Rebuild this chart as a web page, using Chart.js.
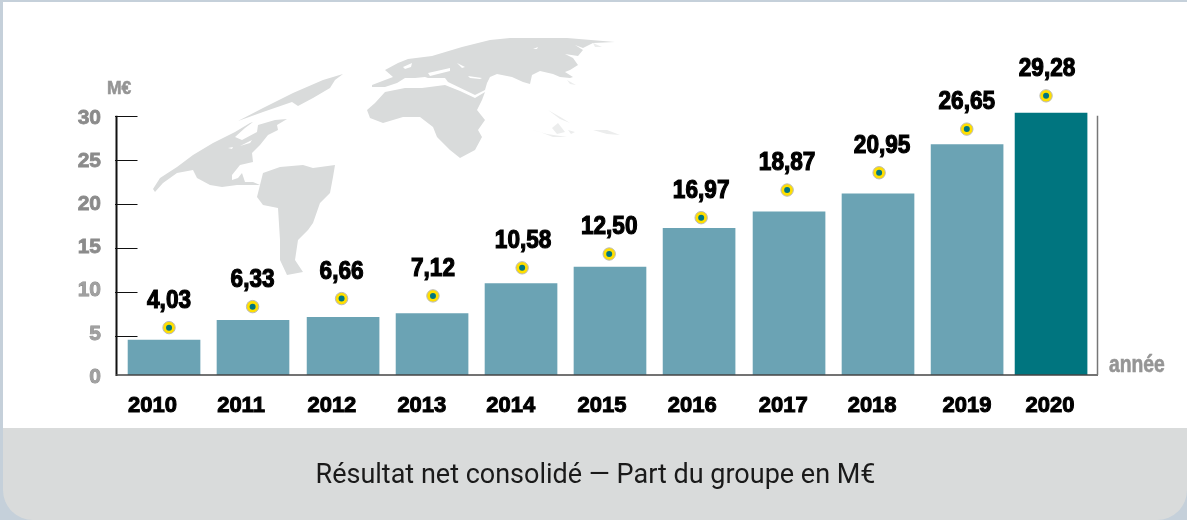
<!DOCTYPE html>
<html lang="fr">
<head>
<meta charset="utf-8">
<title>Résultat net consolidé</title>
<style>
html,body{margin:0;padding:0;width:1187px;height:520px;overflow:hidden;background:#c5d0da;}
#panel{position:absolute;left:3px;top:2px;width:1184px;height:426px;background:#fff;}
#foot{position:absolute;left:3px;top:428px;width:1184px;height:92px;background:#d9dbdb;border-radius:0 0 30px 30px;}
canvas{position:absolute;left:0;top:0;}
</style>
<script src="https://cdn.jsdelivr.net/npm/chart.js@4"></script>
</head>
<body>
<div id="panel"></div>
<div id="foot"></div>
<canvas id="c" width="1187" height="520"></canvas>
<script>
// ---- Data ----
const years = ['2010','2011','2012','2013','2014','2015','2016','2017','2018','2019','2020'];
// printed value of each year
const netResult = [4.03,6.33,6.66,7.12,10.58,12.50,16.97,18.87,20.95,26.65,29.28];
// bar height as drawn in the reference (its 2020 bar stands taller than its printed value)
const barHeights = [4.03,6.33,6.66,7.12,10.58,12.50,16.97,18.87,20.95,26.65,30.3];
// height of each yellow dot on the value axis
const dotHeights = [5.48,7.91,8.84,9.15,12.4,14.0,18.2,21.4,23.4,28.45,32.3];
const yTickValues = [0,5,10,15,20,25,30];

// ---- Layout nudges: the reference's columns are not evenly spaced ----
const barShift   = [3.4,3.1,3.9,3.6,3.3,3.0,2.8,3.5,3.2,3.0,-2.3];
const dotShift   = [8.4,2.7,2.4,4.5,4.4,2.2,4.9,1.6,4.3,2.7,-7.3];
const tickShift  = [-8.2,-8.9,-7.3,-6.6,-6.9,-5.1,-4.1,-2.4,-2.7,3,-3.3];
const valueShift = [0,0,0,0,1,0,0,0,3,0,1];

const BAR = '#6ba3b4', BAR_LAST = '#00757f', GREY = '#959595';
const SANS = '"Liberation Sans", Arial, sans-serif';

const continents = [
  [[153,189],[160,178],[177,167],[193,155],[213,143],[235,132],[250,123],[253,122],[245,128],[235,137],[242,140],[257,132],[258,125],[275,120],[287,119],[277,125],[278,130],[268,135],[260,145],[252,153],[253,162],[240,165],[232,175],[232,180],[238,178],[242,173],[245,182],[253,182],[260,185],[250,185],[237,185],[222,187],[210,185],[197,178],[193,170],[177,173],[163,183],[155,192]],
  [[238,121],[263,108],[293,93],[323,80],[343,74],[335,80],[330,88],[313,98],[298,106],[292,102],[263,112]],
  [[257,197],[263,173],[280,167],[303,165],[313,168],[335,165],[333,177],[330,193],[320,203],[313,223],[308,230],[298,240],[295,260],[303,272],[287,275],[280,260],[280,240],[278,208],[263,205]],
  [[367,110],[375,103],[385,92],[405,88],[422,88],[445,85],[460,91],[475,98],[485,92],[482,100],[477,110],[485,120],[478,130],[482,137],[475,150],[460,158],[450,150],[437,137],[433,127],[420,117],[403,117],[383,123],[370,118]],
  [[372,85],[385,80],[393,77],[385,70],[398,63],[408,59],[432,56],[462,47],[490,40],[510,38],[567,38],[615,42],[593,43],[583,48],[575,45],[583,50],[578,56],[565,54],[573,58],[578,65],[570,70],[565,72],[573,77],[570,78],[560,77],[553,74],[540,71],[532,75],[530,84],[523,82],[512,77],[497,74],[490,77],[487,83],[485,90],[475,95],[448,82],[445,78],[428,78],[425,77],[415,78],[405,78],[397,83],[385,87],[372,87]]
];
const islands = [
  [[525,128],[540,132],[553,137],[567,137],[547,134]],
  [[552,128],[558,123],[565,132],[557,134]],
  [[593,130],[607,130],[620,135],[607,134]],
  [[568,130],[575,132],[571,134]],
  [[548,110],[562,118],[570,123],[560,119]],
  [[567,80],[576,85],[570,84]],
  [[593,43],[602,47],[595,47]]
];
const seas = [
  [[428,73],[450,68],[450,71],[430,76]],
  [[457,63],[465,67],[462,68]],
  [[403,67],[412,63],[411,67],[405,69]],
  [[468,76],[482,78],[480,79],[470,78]],
  [[533,49],[538,47],[537,49]],
  [[240,146],[252,140],[250,143]],
  [[228,148],[233,147],[232,149]]
];

// condensed heavy lettering: no condensed face is installed, so squeeze horizontally
function squeezed(c,text,x,y,sx){
  c.save(); c.translate(x,y); c.scale(sx,1);
  c.fillText(text,0,0); c.strokeText(text,0,0);
  c.restore();
}

const artwork = {
  id:'artwork',
  beforeDatasetsDraw(chart){
    const c = chart.ctx;
    const fill = (shapes,color)=>{
      c.fillStyle = color;
      shapes.forEach(s=>{c.beginPath();s.forEach((p,i)=>i?c.lineTo(p[0],p[1]):c.moveTo(p[0],p[1]));c.closePath();c.fill();});
    };
    c.save();
    fill(continents,'#d9dbdb');
    fill(islands,'#eceded');
    fill(seas,'#ffffff');
    c.restore();
  },
  afterDatasetsDraw(chart){
    const c = chart.ctx, y = chart.scales.y, y2 = chart.scales.yMarks, a = chart.chartArea;
    const top = y.getPixelForValue(30), base = y.getPixelForValue(0);
    c.save();
    // axis frame
    c.strokeStyle = '#111'; c.lineWidth = 2;
    c.beginPath(); c.moveTo(116.5,top); c.lineTo(116.5,base+1); c.stroke();
    c.strokeStyle = '#444'; c.lineWidth = 1.5;
    c.beginPath(); c.moveTo(116,base); c.lineTo(a.right,base); c.stroke();
    c.strokeStyle = '#777';
    c.beginPath(); c.moveTo(a.right-0.5,top); c.lineTo(a.right-0.5,base); c.stroke();
    // tick marks
    c.strokeStyle = '#111'; c.lineWidth = 1;
    yTickValues.slice(1).forEach(v=>{
      const p = Math.round(y2.getPixelForValue(v))+0.5;
      c.beginPath(); c.moveTo(115,p); c.lineTo(137.5,p); c.stroke();
    });
    // value labels
    const dots = chart.getDatasetMeta(2).data;
    c.font = 'bold 26px '+SANS; c.textAlign='center'; c.textBaseline='middle';
    c.fillStyle='#000'; c.strokeStyle='#000'; c.lineWidth=1.2;
    netResult.forEach((v,i)=>{
      squeezed(c,v.toFixed(2).replace('.',','),dots[i].x+valueShift[i],dots[i].y-27,0.87);
    });
    // axis captions
    c.fillStyle = GREY; c.strokeStyle = GREY; c.lineWidth = 0.6;
    c.textAlign='left';
    c.font = 'bold 19px '+SANS;
    squeezed(c,'M€',107,89,0.92);
    c.font = 'bold 23px '+SANS;
    squeezed(c,'année',1109,366,0.84);
    c.restore();
  },
  afterDatasetsUpdate(chart){
    chart.getDatasetMeta(0).data.forEach((el,i)=>{el.x += barShift[i];});
    [1,2].forEach(k=>chart.getDatasetMeta(k).data.forEach((el,i)=>{el.x += dotShift[i];}));
  },
  beforeDraw(chart){
    const items = chart.scales.x.getLabelItems();
    items.forEach((it,i)=>{
      if(!it._moved){it.options.translation[0] += tickShift[i]; it._moved = true;}
    });
  }
};

new Chart(document.getElementById('c'),{
  data:{
    labels:years,
    datasets:[
      {type:'bar',label:'Résultat net',data:barHeights,order:3,barThickness:72,
       backgroundColor:years.map((_,i)=>i===years.length-1?BAR_LAST:BAR)},
      {type:'line',label:'Repère',data:dotHeights,order:2,showLine:false,pointRadius:6.2,
       pointBackgroundColor:'#ffdf00',pointBorderColor:'#b9b9b9',pointBorderWidth:1,clip:false},
      {type:'line',label:'Repère centre',data:dotHeights,order:1,showLine:false,pointRadius:3,
       pointBackgroundColor:BAR_LAST,pointBorderColor:BAR_LAST,pointBorderWidth:0,clip:false}
    ]
  },
  options:{
    responsive:false,
    animation:false,
    devicePixelRatio:1,
    layout:{autoPadding:false,padding:{left:4,right:0,top:14,bottom:0}},
    plugins:{
      legend:{display:false},
      tooltip:{enabled:false},
      title:{display:true,position:'bottom',text:'Résultat net consolidé — Part du groupe en M€',
        color:'#1a1a1a',font:{family:'Roboto',size:27,weight:'normal',lineHeight:1},
        padding:{top:11,bottom:30}}
    },
    scales:{
      x:{
        type:'category',
        grid:{display:false},border:{display:false},
        afterFit(s){s.height=77;},
        ticks:{color:'#000',font:{family:SANS,size:22,weight:'bold'},
          textStrokeColor:'#000',textStrokeWidth:1,padding:10,maxRotation:0,autoSkip:false}
      },
      y:{
        min:0,max:41.12,
        grid:{display:false},border:{display:false},
        afterFit(s){s.width=112;},
        afterBuildTicks(s){s.ticks=yTickValues.map(v=>({value:v}));},
        ticks:{font:{family:SANS,size:21,weight:'bold'},padding:7,labelOffset:2,
          color:c=>c.tick&&c.tick.value<=10?'#a0a0a0':'#8b8b8b',
          textStrokeColor:'#8b8b8b',textStrokeWidth:0.8}
      },
      yMarks:{position:'right',min:0.625,max:40.97,
        grid:{display:false},border:{display:false},ticks:{display:false},
        afterFit(s){s.width=89;}}
    }
  },
  plugins:[artwork]
});
</script>
</body>
</html>
